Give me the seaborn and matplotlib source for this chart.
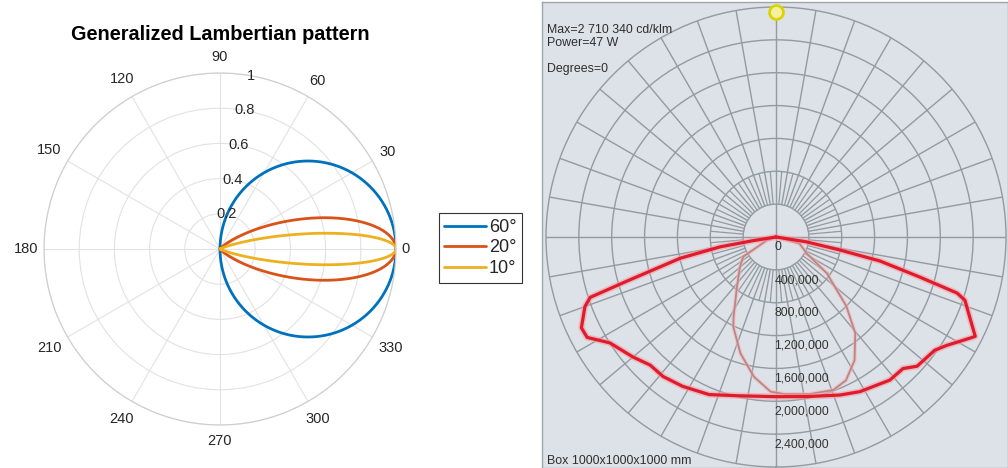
import numpy as np
import pandas as pd
import matplotlib
matplotlib.use("Agg")
import matplotlib.pyplot as plt
from matplotlib.lines import Line2D
import seaborn as sns

# ---------------- left panel: generalized Lambertian pattern ----------------
half_power_deg = [60, 20, 10]          # half-power semi-angle of each source
series_labels = ["60°", "20°", "10°"]
series_colors = ["#0072BD", "#D95319", "#EDB120"]

theta_ticks = [0, 30, 60, 90, 120, 150, 180, 210, 240, 270, 300, 330]
r_ticks = [0.2, 0.4, 0.6, 0.8, 1.0]
r_ticklabels = ["0.2", "0.4", "0.6", "0.8", "1"]

# ---------------- right panel: luminaire intensity distribution ----------------
# gamma measured from nadir (deg, positive to the right), intensity in cd/klm
c0_gamma = [-90, -81, -80, -77.5, -73.5, -72, -70, -65, -62, -57.5, -50, -44.5,
            -39, -32, -23, -13, 0, 11, 22, 28.5, 38.5, 44, 47.5, 54.5, 57.5,
            62.5, 63.5, 67.5, 71.5, 72.8, 74.5, 77, 78.5, 81, 90]
c0_intensity = [0, 280000, 690000, 1195000, 1897000, 2378000, 2475000, 2614000,
                2604000, 2399000, 2273000, 2186000, 2185000, 2144000, 2084000,
                1984000, 1944000, 1979000, 2075000, 2142000, 2226000, 2226000,
                2329000, 2374000, 2459000, 2665000, 2710340, 2553000, 2425000,
                2307000, 1800000, 1299000, 795000, 370000, 0]

c90_gamma = [-90, -70, -59, -50.5, -38, -28, -25.5, -17, -9, -2, 3, 12, 20.5,
             26, 32.5, 39.5, 45.5, 54.5, 62, 74, 80, 90]
c90_intensity = [0, 120000, 465000, 568000, 772000, 1100000, 1209000, 1481000,
                 1722000, 1884000, 1914000, 1955000, 1989000, 1942000, 1780000,
                 1517000, 1200000, 760000, 424000, 300000, 60000, 0]

ring_values = [0, 400000, 800000, 1200000, 1600000, 2000000, 2400000]
ring_labels = ["0", "400,000", "800,000", "1,200,000", "1,600,000",
               "2,000,000", "2,400,000"]
r_max = 2800000
header_lines = ["Max=2 710 340 cd/klm", "Power=47 W"]
plane_label = "Degrees=0"
box_label = "Box 1000x1000x1000 mm"

sns.set_theme(style="white")
plt.rcParams["font.family"] = ["Liberation Sans", "DejaVu Sans"]

W, H = 1008, 468
fig = plt.figure(figsize=(W / 100, H / 100), dpi=100)
fig.patch.set_facecolor("white")


def fx(px):
    return px / W


def fy(py):
    return 1 - py / H


# ---- left polar axes ----
cx, cy, rad = 220, 249, 176
ax = fig.add_axes([fx(cx - rad), fy(cy + rad), 2 * rad / W, 2 * rad / H],
                  projection="polar")
theta = np.linspace(-np.pi / 2, np.pi / 2, 721)
frames = []
for hp, lab in zip(half_power_deg, series_labels):
    m = -np.log(2) / np.log(np.cos(np.radians(hp)))
    frames.append(pd.DataFrame({"theta": theta,
                                "r": np.cos(theta).clip(0) ** m,
                                "source": lab}))
lam = pd.concat(frames, ignore_index=True)
sns.lineplot(data=lam, x="theta", y="r", hue="source", palette=series_colors,
             hue_order=series_labels, estimator=None, sort=False, lw=2.0,
             legend=False, ax=ax)
ax.set_xlabel("")
ax.set_ylabel("")
ax.set_ylim(0, 1)
ax.set_yticks(r_ticks)
ax.set_yticklabels([])
ax.set_xticks(np.radians(theta_ticks))
ax.set_xticklabels([])
ax.grid(True, color="#e2e2e2", lw=0.8)
ax.spines["polar"].set_color("#cfcfcf")
ax.spines["polar"].set_linewidth(0.9)

# angle labels just outside the rim, offset by their own extent
for t in theta_ticks:
    lbl = str(t)
    c, s = np.cos(np.radians(t)), np.sin(np.radians(t))
    off = 6 + 3.85 * len(lbl) * abs(c) + 10 * abs(s)     # pixels
    ax.annotate(lbl, xy=(np.radians(t), 1.0),
                xytext=(off * c * 0.72, off * s * 0.72),
                textcoords="offset points", ha="center", va="center",
                fontsize=10.5, color="#262626", annotation_clip=False)

for v, lbl in zip(r_ticks, r_ticklabels):
    ax.text(np.radians(80), v, lbl, ha="center", va="center", fontsize=10.5,
            color="#262626")
ax.set_title("Generalized Lambertian pattern", fontsize=14.3, color="black",
             fontweight="bold", y=1 + (cy - rad - 40) / (2 * rad), pad=0)

handles = [Line2D([], [], color=c, lw=2.0) for c in series_colors]
leg = fig.legend(handles, series_labels, loc="center left",
                 bbox_to_anchor=(fx(439), fy(248)), fontsize=13,
                 frameon=True, fancybox=False, framealpha=1,
                 edgecolor="#333333", handlelength=2.3, handletextpad=0.15,
                 borderpad=0.3, labelspacing=0.2, borderaxespad=0)
leg.get_frame().set_linewidth(0.8)

# ---- right panel background ----
bg = fig.add_axes([fx(542), 0, 466 / W, 466 / H])
bg.set_facecolor("#dce2e7")
bg.set_xticks([])
bg.set_yticks([])
for s in bg.spines.values():
    s.set_color("#9ea4aa")
    s.set_linewidth(1)

grid_c = "#939aa0"
pcx, pcy, prad = 776, 237, 230
pax = fig.add_axes([fx(pcx - prad), fy(pcy + prad), 2 * prad / W, 2 * prad / H],
                   projection="polar")
pax.set_facecolor("none")
pax.set_theta_zero_location("S")
pax.set_ylim(0, r_max)
pax.set_yticks(ring_values[1:])
pax.set_yticklabels([])
pax.set_xticks([])
pax.grid(False, axis="x")
pax.grid(True, axis="y", color=grid_c, lw=1.0)
pax.spines["polar"].set_color(grid_c)
pax.spines["polar"].set_linewidth(1.0)

# radial spokes: axes cross through the centre, 10° spokes from the first
# ring outwards, 5° spokes in the inner band
cross = np.radians([0, 90, 180, 270])
pax.vlines(cross, 0, r_max, colors=grid_c, lw=1.0, zorder=1)
spokes10 = np.radians([a for a in range(0, 360, 10) if a % 90])
pax.vlines(spokes10, ring_values[1], r_max, colors=grid_c, lw=1.0, zorder=1)
spokes5 = np.radians(list(range(5, 360, 10)))
pax.vlines(spokes5, ring_values[1], ring_values[2], colors=grid_c, lw=0.9,
           zorder=1)

g0 = np.radians(c0_gamma)
g90 = np.radians(c90_gamma)
sns.lineplot(x=g90, y=c90_intensity, sort=False, ax=pax, color="#f2b4b8",
             lw=3.0, alpha=0.55)
sns.lineplot(x=g90, y=c90_intensity, sort=False, ax=pax, color="#bf8484",
             lw=1.3)
sns.lineplot(x=g0, y=c0_intensity, sort=False, ax=pax, color="#f59aa4",
             lw=4.6, alpha=0.55)
sns.lineplot(x=g0, y=c0_intensity, sort=False, ax=pax, color="#e01c2c",
             lw=2.3)
pax.set_xlabel("")
pax.set_ylabel("")

for v, lbl in zip(ring_values, ring_labels):
    pax.annotate(lbl, xy=(0, v), xytext=(-1, -3), textcoords="offset points",
                 ha="left", va="top", fontsize=8.8, color="#333333")

pax.plot([np.pi], [r_max * 0.98], marker="o", ms=10, mfc="#f4f0a0",
         mec="#dcd400", mew=2, clip_on=False, zorder=5)

for py, txt in zip([30, 43, 69, 461],
                   header_lines + [plane_label, box_label]):
    fig.text(fx(547), fy(py), txt, fontsize=8.9, color="#2e2e2e",
             va="center", ha="left")

fig.savefig("out.png", dpi=100)
